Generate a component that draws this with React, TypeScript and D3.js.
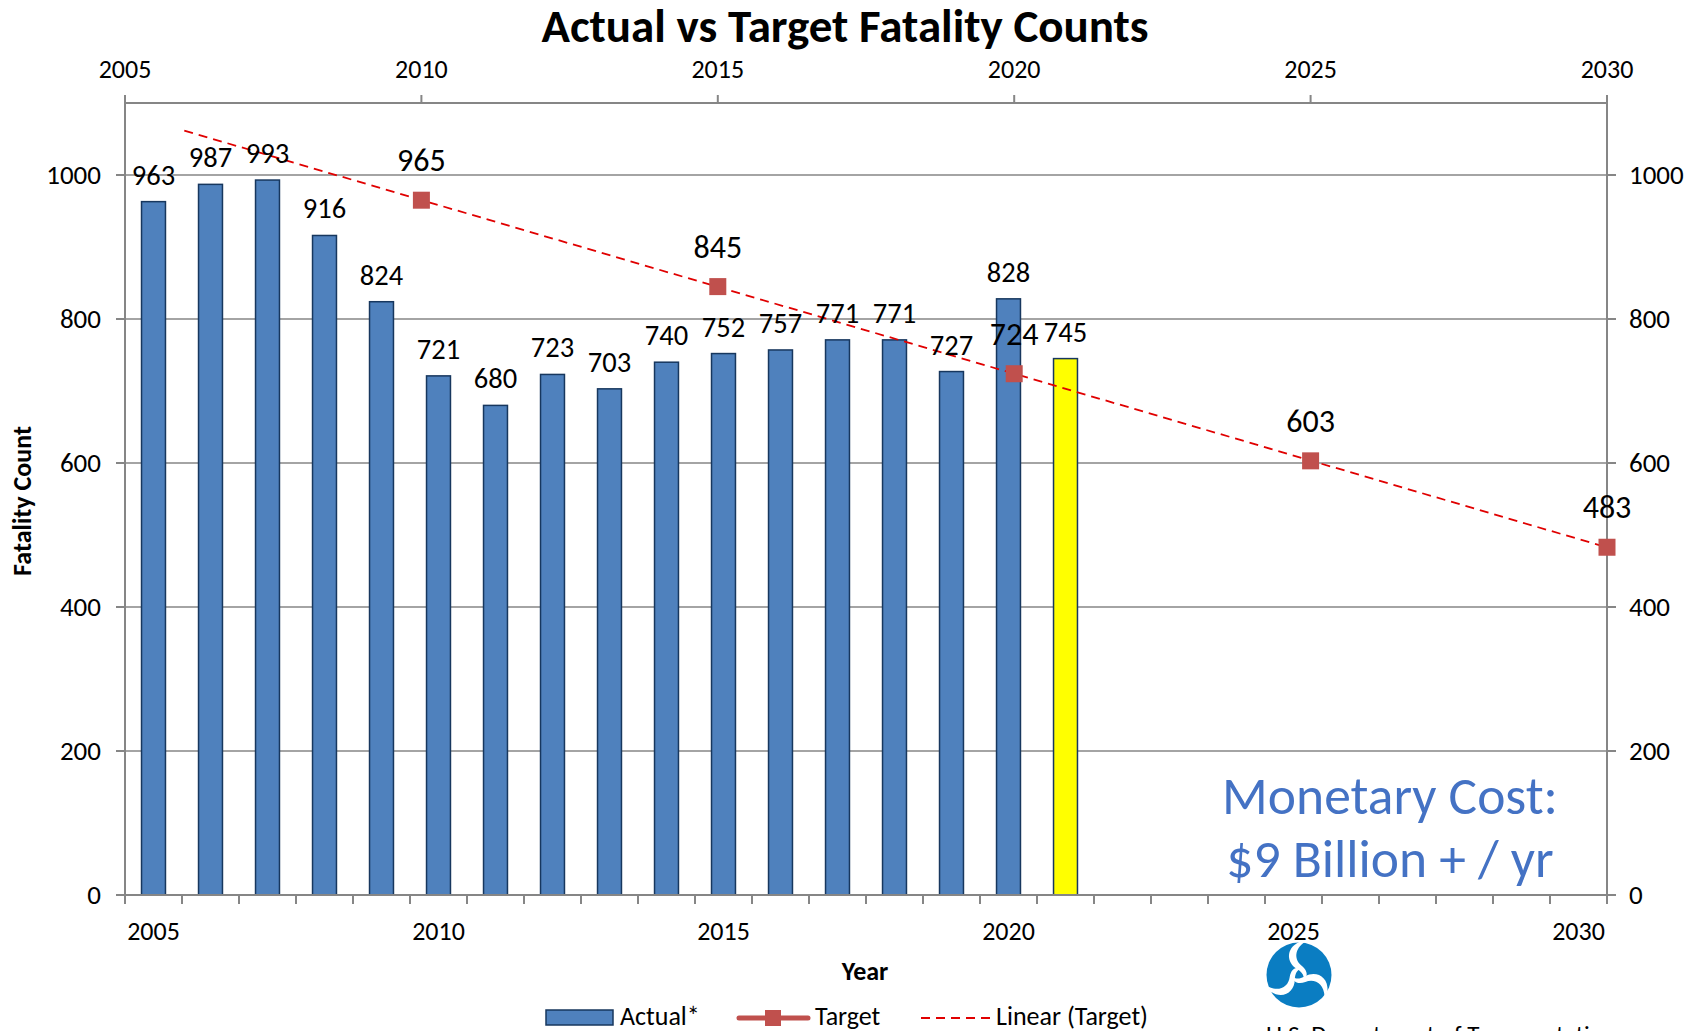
import * as d3 from 'd3';

const categories = d3.range(2005, 2031).map(String);
const actualYears = ['2005', '2006', '2007', '2008', '2009', '2010', '2011', '2012', '2013', '2014', '2015', '2016', '2017', '2018', '2019', '2020', '2021'];
const actualValues = [963, 987, 993, 916, 824, 721, 680, 723, 703, 740, 752, 757, 771, 771, 727, 828, 745];
const highlightYear = '2021';
const targetYears = [2010, 2015, 2020, 2025, 2030];
const targetValues = [965, 845, 724, 603, 483];
const trendStartYear = 2006;
const yTicks = [0, 200, 400, 600, 800, 1000];
const topTicks = [2005, 2010, 2015, 2020, 2025, 2030];
const bottomLabels = ['2005', '2010', '2015', '2020', '2025', '2030'];

const W = 1689;
const H = 1031;
const FONT = 'Carlito, Lato, "Open Sans", sans-serif';
const AXIS = '#868686';

const App = () => {
    // Plot area
    const left = 125;
    const right = 1607;
    const bottom = 895;
    const top = 103;

    const x = d3.scaleBand().domain(categories).range([left, right]).paddingInner(0.58).paddingOuter(0.29);
    const xTop = d3.scaleLinear().domain([2005, 2030]).range([left, right]);
    const y = d3.scaleLinear().domain([0, 1100]).range([bottom, top]);

    const step = x.step();
    const gap = (step - x.bandwidth()) / 2;
    const boundaries = categories.map(c => (x(c) as number) - gap).concat([right]);

    // Linear trendline fitted on the target points
    const mx = d3.mean(targetYears) as number;
    const my = d3.mean(targetValues) as number;
    const slope = d3.sum(targetYears.map((t, i) => (t - mx) * (targetValues[i] - my))) /
        d3.sum(targetYears.map(t => (t - mx) ** 2));
    const trend = (t: number) => my + slope * (t - mx);
    const trendEnd = targetYears[targetYears.length - 1];

    const ms = 17;

    return (
        <div style={{ position: 'absolute', left: 0, top: 0 }}>
            <svg width={W} height={H} style={{ display: 'block', fontFamily: FONT }}>
                <rect width={W} height={H} fill="#fff" />

                <text x={845} y={42} textAnchor="middle" fontSize={47} fontWeight={700} fill="#000">
                    Actual vs Target Fatality Counts
                </text>

                {/* gridlines */}
                {yTicks.filter(v => v > 0).map(v => (
                    <line key={'g' + v} x1={left} x2={right} y1={y(v)} y2={y(v)} stroke={AXIS} strokeWidth={1.5} />
                ))}

                {/* frame axes */}
                <line x1={left} x2={right} y1={top} y2={top} stroke={AXIS} strokeWidth={2} />
                <line x1={left} x2={left} y1={top - 8} y2={bottom + 8} stroke={AXIS} strokeWidth={2} />
                <line x1={right} x2={right} y1={top - 8} y2={bottom + 8} stroke={AXIS} strokeWidth={2} />

                {/* left / right ticks and labels */}
                {yTicks.map(v => (
                    <g key={'y' + v}>
                        <line x1={left - 9} x2={left} y1={y(v)} y2={y(v)} stroke={AXIS} strokeWidth={2} />
                        <line x1={right} x2={right + 9} y1={y(v)} y2={y(v)} stroke={AXIS} strokeWidth={2} />
                        <text x={left - 24} y={y(v) + 9} textAnchor="end" fontSize={27} fill="#000">{v}</text>
                        <text x={right + 22} y={y(v) + 9} textAnchor="start" fontSize={27} fill="#000">{v}</text>
                    </g>
                ))}

                {/* top axis ticks and labels */}
                {topTicks.map(t => (
                    <g key={'t' + t}>
                        <line x1={xTop(t)} x2={xTop(t)} y1={top - 8} y2={top} stroke={AXIS} strokeWidth={2} />
                        <text x={xTop(t)} y={78} textAnchor="middle" fontSize={26} fill="#000">{t}</text>
                    </g>
                ))}

                {/* bars */}
                {actualYears.map((c, i) => (
                    <rect key={'b' + c}
                        x={x(c)} y={y(actualValues[i])}
                        width={x.bandwidth()} height={bottom - y(actualValues[i])}
                        fill={c === highlightYear ? '#FFFF00' : '#4F81BD'}
                        stroke="#17375E" strokeWidth={1.5} />
                ))}

                {/* bottom axis */}
                <line x1={left} x2={right} y1={bottom} y2={bottom} stroke={AXIS} strokeWidth={2} />
                {boundaries.map((b, i) => (
                    <line key={'bt' + i} x1={b} x2={b} y1={bottom} y2={bottom + 9} stroke={AXIS} strokeWidth={2} />
                ))}
                {bottomLabels.map(c => (
                    <text key={'bl' + c} x={(x(c) as number) + x.bandwidth() / 2} y={940} textAnchor="middle" fontSize={26} fill="#000">{c}</text>
                ))}

                {/* trendline */}
                <line x1={xTop(trendStartYear)} y1={y(trend(trendStartYear))} x2={xTop(trendEnd)} y2={y(trend(trendEnd))}
                    stroke="#E00000" strokeWidth={1.8} strokeDasharray="9,6" />

                {/* bar labels */}
                {actualYears.map((c, i) => (
                    <text key={'bv' + c} x={(x(c) as number) + x.bandwidth() / 2} y={y(actualValues[i]) - 17}
                        textAnchor="middle" fontSize={28.5} fill="#000">{actualValues[i]}</text>
                ))}

                {/* target markers */}
                {targetYears.map((t, i) => (
                    <g key={'m' + t}>
                        <rect x={xTop(t) - ms / 2} y={y(targetValues[i]) - ms / 2} width={ms} height={ms} fill="#C0504D" />
                        <text x={xTop(t)} y={y(targetValues[i]) - 29} textAnchor="middle" fontSize={32} fill="#000">{targetValues[i]}</text>
                    </g>
                ))}

                {/* annotation */}
                <text x={1390} y={814} textAnchor="middle" fontSize={53.5} fill="#4472C4">Monetary Cost:</text>
                <text x={1390} y={877} textAnchor="middle" fontSize={53.5} fill="#4472C4">$9 Billion + / yr</text>

                {/* axis titles */}
                <text x={865} y={980} textAnchor="middle" fontSize={26} fontWeight={700} fill="#000">Year</text>
                <text transform={`translate(31,501) rotate(-90)`} textAnchor="middle" fontSize={26} fontWeight={700} fill="#000">Fatality Count</text>

                {/* legend */}
                <rect x={546} y={1010} width={67} height={15} fill="#4F81BD" stroke="#17375E" strokeWidth={1.5} />
                <text x={620} y={1025} fontSize={26} fill="#000">Actual*</text>
                <line x1={739} x2={808} y1={1018} y2={1018} stroke="#C0504D" strokeWidth={5} strokeLinecap="round" />
                <rect x={765} y={1010} width={16} height={16} fill="#C0504D" />
                <text x={815} y={1025} fontSize={26} fill="#000">Target</text>
                <line x1={921} x2={990} y1={1018} y2={1018} stroke="#E00000" strokeWidth={1.8} strokeDasharray="9,6" />
                <text x={996} y={1025} fontSize={26} fill="#000">Linear (Target)</text>

                {/* DOT logo */}
                <g transform="translate(1299,975)">
                    <circle r={32.5} fill="#0A7DC2" />
                    {[0, 120, 240].map(a => (
                        <path key={'lg' + a} transform={`rotate(${a})`}
                            d="M0,-33 C-14,-26 -12,-12 -2,-6 C6,-1 6,4 2,6 C10,3 9,-4 3,-9 C-5,-15 -5,-26 6,-33 Z"
                            fill="#fff" />
                    ))}
                </g>
                <text x={1266} y={1043} fontSize={25} fill="#000">U.S. Department of Transportation</text>
            </svg>
        </div>
    );
};

export default App;
